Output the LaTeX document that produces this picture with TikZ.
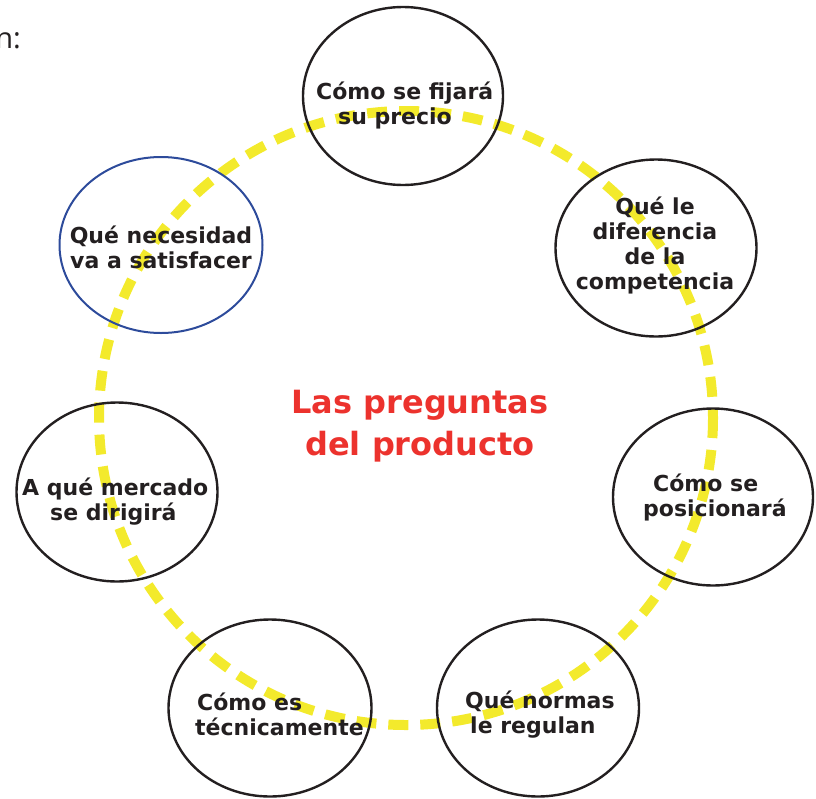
\documentclass[tikz,border=0pt]{standalone}
\usepackage{fontspec}
\setmainfont{DejaVu Sans}
\newfontfamily\cortefont{Open Sans}
\usetikzlibrary{shapes.geometric}
\definecolor{ringyellow}{RGB}{243,234,44}
\definecolor{qred}{RGB}{236,50,45}
\definecolor{qblue}{RGB}{45,75,155}
\definecolor{qblack}{RGB}{35,31,32}
\tikzset{
	bubble/.style={draw=qblack,line width=2.4pt,ellipse,inner sep=0pt,minimum width=201pt,minimum height=177pt},
	q/.style={text=qblack,font=\bfseries\fontsize{22}{25}\selectfont,inner sep=0pt},
	ring/.style={draw=ringyellow,line width=10pt,dash pattern=on 20pt off 12pt}
}
\begin{document}
\begin{tikzpicture}[x=1pt,y=-1pt]
	\useasboundingbox (0,0) rectangle (816,798);
	% anillo amarillo
	\draw[ring] (406,418) circle [radius=307];
	% las siete burbujas
	\draw (403,96) node[bubble,minimum width=200pt,minimum height=178pt] (precio) {};
	\draw (656,248) node[bubble] (diferencia) {};
	\draw (161,245) node[bubble,draw=qblue,line width=2pt,minimum width=203pt,minimum height=176pt] (necesidad) {};
	\draw (117,492) node[bubble,minimum height=179pt] (mercado) {};
	\draw (713,497) node[bubble,minimum width=200pt] (posicion) {};
	\draw (270,708) node[bubble,minimum width=203pt] (tecnica) {};
	\draw (538,708) node[bubble,minimum width=202pt] (normas) {};
	% textos
	\draw (316,105) node[q,anchor=west,align=left] (precio-t) {Cómo se fijará\\\hspace*{22pt}su precio};
	\draw (655,245) node[q,align=center] (diferencia-t) {Qué le\\diferencia\\de la\\competencia};
	\draw (161,247) node[q,align=center] (necesidad-t) {Qué necesidad\\va a satisfacer};
	\draw (22,502) node[q,anchor=west,align=left] (mercado-t) {A qué mercado\\\hspace*{28pt}se dirigirá};
	\draw (643,497) node[q,anchor=west,align=left] (posicion-t) {\hspace*{10pt}Cómo se\\posicionará};
	\draw (195,714) node[q,anchor=west,align=left] (tecnica-t) {\hspace*{2pt}Cómo es\\técnicamente};
	\draw (465,715) node[q,anchor=west,align=left] (normas-t) {Qué normas\\\hspace*{5pt}le regulan};
	\draw (420,426) node[q,text=qred,font=\bfseries\fontsize{32}{42}\selectfont,align=center] (titulo) {Las preguntas\\del producto};
	\draw (21,48) node[anchor=base east,inner sep=0pt,text=qblack,font=\cortefont\fontsize{29}{30}\selectfont] (corte) {n:};
\end{tikzpicture}
\end{document}
